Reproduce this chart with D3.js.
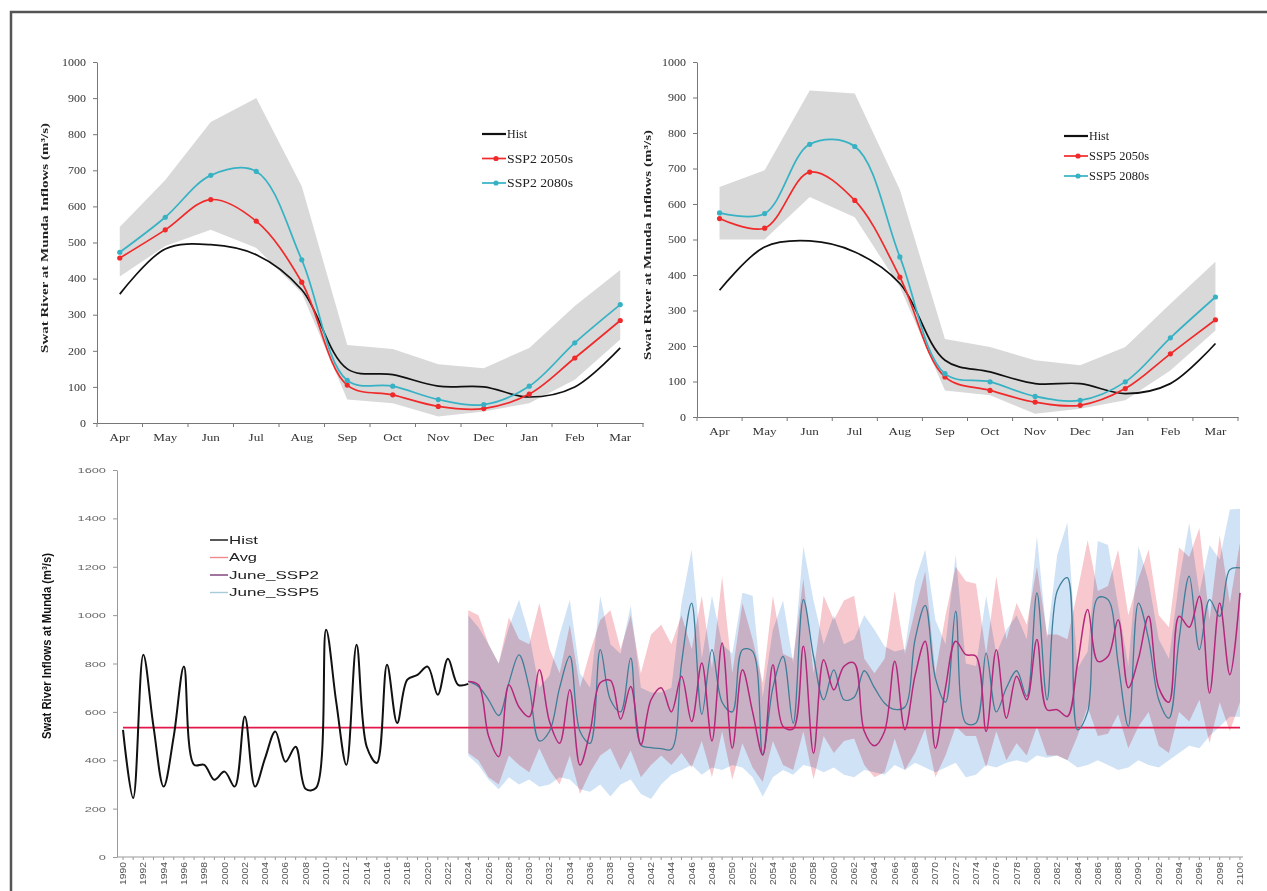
<!DOCTYPE html>
<html>
<head>
<meta charset="utf-8">
<script src="https://cdn.jsdelivr.net/npm/d3@7/dist/d3.min.js"></script>
<style>
  body { margin: 0; background: #fff; }
  svg { display: block; }
  .wide-r { transform-box: fill-box; transform-origin: 100% 50%; }
  .wide-c { transform-box: fill-box; transform-origin: 50% 50%; }
</style>
</head>
<body>
<svg id="fig" width="1267" height="891"></svg>
<script>
// ---- monthly climatology panels (Apr..Mar) ----
var months = ["Apr", "May", "Jun", "Jul", "Aug", "Sep", "Oct", "Nov", "Dec", "Jan", "Feb", "Mar"];

var histL    = [357, 482, 494, 466, 369, 150, 134, 102, 100, 72, 100, 208];
var ssp2_50s = [457, 535, 619, 559, 390, 105, 78, 46, 40, 80, 180, 284];
var ssp2_80s = [473, 570, 686, 697, 452, 118, 102, 65, 51, 102, 222, 328];
var ssp2Hi   = [543, 673, 834, 900, 656, 216, 205, 163, 152, 208, 324, 424];
var ssp2Lo   = [406, 490, 535, 485, 360, 65, 55, 18, 32, 55, 120, 231];

var histR    = [357, 479, 496, 465, 376, 160, 127, 94, 94, 66, 94, 207];
var ssp5_50s = [559, 532, 690, 610, 394, 113, 75, 42, 33, 80, 178, 274];
var ssp5_80s = [575, 573, 768, 762, 451, 122, 99, 58, 47, 99, 223, 338];
var ssp5Hi   = [648, 695, 920, 911, 640, 220, 197, 160, 146, 197, 319, 437];
var ssp5Lo   = [500, 500, 620, 563, 366, 75, 61, 9, 23, 47, 131, 244];

// ---- June inflow series ----
var histStart = 1990, projStart = 2024;
var histJune = [526, 244, 836, 540, 291, 500, 788, 381, 381, 319,
                353, 291, 581, 291, 410, 519, 394, 456, 281, 285,
                940, 640, 381, 878, 456, 389, 795, 554, 733, 753,
                787, 671, 820, 712, 716];
var avgJune = 535;

var juneSSP2 = [726, 712, 500, 415, 712, 620, 580, 774, 560, 470,
                691, 380, 520, 720, 730, 570, 705, 464, 650, 700,
                600, 747, 560, 802, 480, 885, 450, 774, 600, 422,
                795, 540, 530, 871, 429, 816, 691, 788, 802, 520,
                460, 520, 809, 526, 750, 892, 450, 700, 892, 837,
                830, 519, 857, 574, 747, 650, 899, 609, 609, 581,
                800, 1023, 809, 830, 981, 700, 820, 995, 700, 640,
                995, 950, 1078, 678, 1050, 754, 1092];
var juneSSP5 = [726, 705, 650, 585, 720, 836, 700, 480, 520, 700,
                830, 520, 470, 857, 650, 600, 822, 464, 452, 448,
                445, 800, 1050, 590, 857, 640, 600, 857, 850, 422,
                700, 829, 553, 1064, 830, 650, 774, 650, 660, 770,
                700, 636, 610, 620, 900, 1040, 740, 640, 1016, 554,
                554, 843, 600, 700, 770, 664, 1092, 650, 1100, 1155,
                526, 600, 1071, 1064, 800, 540, 1050, 900, 650, 574,
                900, 1161, 857, 1064, 995, 1188, 1195];
var ssp2Max = [1020, 1000, 880, 800, 990, 900, 880, 1050, 860, 760,
               960, 700, 850, 980, 1020, 860, 1000, 760, 920, 960,
               880, 1000, 860, 1080, 780, 1160, 760, 1050, 900, 720,
               1080, 840, 820, 1150, 760, 1080, 980, 1060, 1080, 820,
               760, 820, 1100, 840, 1020, 1180, 760, 1000, 1200, 1140,
               1130, 840, 1160, 900, 1050, 960, 1200, 920, 920, 900,
               1100, 1310, 1100, 1120, 1270, 1000, 1150, 1270, 1000, 950,
               1280, 1240, 1360, 980, 1330, 1050, 1300];
var ssp2Min = [430, 400, 330, 300, 420, 380, 350, 450, 360, 300,
               420, 260, 350, 420, 450, 360, 440, 330, 380, 420,
               380, 430, 370, 480, 330, 520, 320, 470, 370, 310,
               480, 380, 360, 520, 320, 500, 430, 480, 490, 380,
               330, 350, 490, 360, 430, 530, 330, 420, 540, 500,
               500, 370, 520, 400, 470, 420, 540, 420, 420, 400,
               500, 620, 500, 510, 590, 450, 540, 600, 460, 430,
               600, 560, 650, 470, 640, 520, 640];
var ssp5Max = [1000, 950, 880, 800, 950, 1064, 920, 700, 750, 920,
               1064, 760, 700, 1078, 880, 840, 1040, 700, 680, 680,
               700, 1050, 1271, 820, 1080, 880, 840, 1092, 1080, 660,
               940, 1060, 800, 1285, 1060, 880, 1000, 880, 900, 1000,
               940, 870, 850, 860, 1140, 1271, 980, 880, 1250, 800,
               790, 1080, 840, 940, 1000, 900, 1326, 900, 1250, 1382,
               780, 850, 1306, 1290, 1040, 790, 1285, 1140, 900, 820,
               1140, 1382, 1090, 1290, 1230, 1437, 1440];
var ssp5Min = [420, 380, 320, 280, 330, 300, 320, 290, 300, 330,
               320, 280, 270, 300, 250, 300, 320, 260, 240, 300,
               340, 360, 380, 340, 370, 360, 380, 370, 330, 250,
               330, 360, 340, 380, 370, 350, 370, 340, 330, 360,
               350, 340, 380, 360, 390, 370, 350, 370, 390, 330,
               340, 380, 370, 390, 400, 390, 420, 410, 420, 400,
               370, 380, 400, 380, 360, 370, 400, 380, 370, 400,
               430, 460, 450, 500, 540, 580, 580];

var serif = "'Liberation Serif', 'Times New Roman', serif";
var sans = "'Liberation Sans', Arial, sans-serif";
var narrow = "'Liberation Sans Narrow', 'Arial Narrow', 'Liberation Sans', sans-serif";

var svg = d3.select("#fig");

// figure frame (top and left edges visible)
svg.append("path")
    .attr("d", "M11,891V12H1267")
    .attr("fill", "none")
    .attr("stroke", "#555")
    .attr("stroke-width", 2.5);

function monthlyPanel(p) {
  var x = d3.scaleBand().domain(months).range([p.left, p.right]);
  var y = d3.scaleLinear().domain([0, 1000]).range([p.bottom, p.top]);
  var mx = function(d, i) { return x(months[i]) + x.bandwidth() / 2; };
  var g = svg.append("g");

  g.append("path")
      .attr("fill", "#d9d9d9")
      .attr("d", d3.area()
        .x(mx)
        .y0(function(d, i) { return y(p.lo[i]); })
        .y1(function(d) { return y(d); })(p.hi));

  var line = d3.line().x(mx).y(function(d) { return y(d); }).curve(d3.curveCatmullRom.alpha(0.5));
  var series = [
    {name: "Hist", v: p.hist, c: "#111", dot: false},
    {name: p.names[0], v: p.s50, c: "#f02a2a", dot: true},
    {name: p.names[1], v: p.s80, c: "#36b2c4", dot: true}
  ];
  series.forEach(function(s) {
    g.append("path").attr("fill", "none").attr("stroke", s.c).attr("stroke-width", 1.7).attr("d", line(s.v));
    if (s.dot) {
      g.selectAll(null).data(s.v).join("circle")
          .attr("cx", mx).attr("cy", function(d) { return y(d); })
          .attr("r", 2.6).attr("fill", s.c);
    }
  });

  // y axis
  var ya = g.append("g")
      .attr("transform", "translate(" + p.left + ",0)")
      .call(d3.axisLeft(y).tickValues(d3.range(0, 1001, 100)).tickFormat(d3.format("d"))
        .tickSize(4).tickPadding(7).tickSizeOuter(0));
  ya.attr("font-family", serif).attr("font-size", 10);
  ya.select(".domain").attr("stroke", "#777");
  ya.selectAll(".tick line").attr("stroke", "#777");
  ya.selectAll(".tick text").attr("fill", "#333").attr("class", "wide-r").style("transform", "scaleX(1.2)");

  // x axis with ticks on category boundaries
  var xa = g.append("g")
      .attr("transform", "translate(0," + p.bottom + ")")
      .call(d3.axisBottom(x).tickSize(0).tickPadding(11).tickSizeOuter(0));
  xa.attr("font-family", serif).attr("font-size", 10.5);
  xa.select(".domain").attr("stroke", "#777");
  xa.selectAll(".tick text").attr("fill", "#333").attr("class", "wide-c").style("transform", "scaleX(1.25)");
  xa.selectAll(".edge").data(months.map(function(m) { return x(m); }).concat([p.right]))
    .join("line").attr("class", "edge")
      .attr("x1", function(d) { return d; }).attr("x2", function(d) { return d; })
      .attr("y1", 0).attr("y2", 4).attr("stroke", "#777");

  // axis title
  g.append("text")
      .attr("transform", "translate(" + p.titleX + "," + p.titleY + ") rotate(-90)")
      .attr("text-anchor", "middle")
      .attr("font-family", serif).attr("font-weight", "bold").attr("font-size", 10.5)
      .attr("textLength", p.titleLen).attr("lengthAdjust", "spacingAndGlyphs")
      .attr("fill", "#222")
      .text("Swat River at Munda Inflows (m\u00b3/s)");

  // legend
  var lg = g.append("g").attr("transform", "translate(" + p.legX + "," + p.legY + ")");
  series.forEach(function(s, i) {
    var row = lg.append("g").attr("transform", "translate(0," + i * p.legStep + ")");
    row.append("line").attr("x1", 0).attr("x2", p.swatch).attr("stroke", s.c).attr("stroke-width", s.dot ? 1.7 : 2.2);
    if (s.dot) row.append("circle").attr("cx", p.swatch / 2 + 2).attr("r", 2.6).attr("fill", s.c);
    var t = row.append("text").attr("x", p.swatch + 1).attr("dy", "0.35em")
        .attr("font-family", serif).attr("font-size", 12).attr("fill", "#222").text(s.name);
    if (s.dot) t.attr("textLength", p.legLen).attr("lengthAdjust", "spacingAndGlyphs");
  });
}

monthlyPanel({
  left: 97, right: 643, top: 62, bottom: 423,
  hist: histL, s50: ssp2_50s, s80: ssp2_80s, hi: ssp2Hi, lo: ssp2Lo,
  names: ["SSP2 2050s", "SSP2 2080s"],
  titleX: 48, titleY: 238, titleLen: 230,
  legX: 482, legY: 134, legStep: 24.5, swatch: 24, legLen: 66
});

monthlyPanel({
  left: 697, right: 1238, top: 62, bottom: 417,
  hist: histR, s50: ssp5_50s, s80: ssp5_80s, hi: ssp5Hi, lo: ssp5Lo,
  names: ["SSP5 2050s", "SSP5 2080s"],
  titleX: 651, titleY: 245, titleLen: 230,
  legX: 1064, legY: 136, legStep: 20, swatch: 24, legLen: 60
});

// ---- bottom: June inflows 1990-2100 ----
var histYears = d3.range(histStart, histStart + histJune.length);
var projYears = d3.range(projStart, projStart + juneSSP2.length);

var bx = d3.scaleLinear().domain([1990, 2100]).range([123, 1240]);
var by = d3.scaleLinear().domain([0, 1600]).range([857, 470]);
var gb = svg.append("g");

function band(hi, lo) {
  return d3.area()
    .x(function(d, i) { return bx(projYears[i]); })
    .y0(function(d, i) { return by(lo[i]); })
    .y1(function(d) { return by(d); })(hi);
}
gb.append("path").attr("d", band(ssp5Max, ssp5Min)).attr("fill", "#d0e2f5").style("mix-blend-mode", "multiply");
gb.append("path").attr("d", band(ssp2Max, ssp2Min)).attr("fill", "#f7c8cd").style("mix-blend-mode", "multiply");

gb.append("path")
    .attr("d", d3.line().x(function(d) { return bx(d); }).y(by(avgJune))([1990, 2100]))
    .attr("stroke", "#e3174a").attr("stroke-width", 1.6);

var smooth = function(years) {
  return d3.line()
    .x(function(d, i) { return bx(years[i]); })
    .y(function(d) { return by(d); })
    .curve(d3.curveCatmullRom.alpha(0.5));
};
gb.append("path").attr("d", smooth(histYears)(histJune)).attr("fill", "none").attr("stroke", "#111").attr("stroke-width", 2);
gb.append("path").attr("d", smooth(projYears)(juneSSP5)).attr("fill", "none").attr("stroke", "#3f7e98").attr("stroke-width", 1.3);
gb.append("path").attr("d", smooth(projYears)(juneSSP2)).attr("fill", "none").attr("stroke", "#b4287c").attr("stroke-width", 1.5);

// y axis
var bya = gb.append("g")
    .attr("transform", "translate(117,0)")
    .call(d3.axisLeft(by).tickValues(d3.range(0, 1601, 200)).tickFormat(d3.format("d"))
      .tickSize(4).tickPadding(7).tickSizeOuter(0));
bya.attr("font-family", sans).attr("font-size", 8);
bya.select(".domain").attr("stroke", "#999");
bya.selectAll(".tick line").attr("stroke", "#999");
bya.selectAll(".tick text").attr("fill", "#666").attr("class", "wide-r").style("transform", "scaleX(1.6)");

// x axis: a tick each year, a label every two years
var allYears = d3.range(1990, 2101);
var bxa = gb.append("g").attr("transform", "translate(0,857)");
bxa.append("line").attr("x1", 117).attr("x2", 1243).attr("stroke", "#999");
bxa.selectAll("line.t").data(allYears).join("line").attr("class", "t")
    .attr("x1", function(d) { return bx(d); }).attr("x2", function(d) { return bx(d); })
    .attr("y1", 0).attr("y2", 3).attr("stroke", "#999");
bxa.selectAll("text").data(allYears.filter(function(d) { return d % 2 === 0; })).join("text")
    .attr("transform", function(d) { return "translate(" + bx(d) + ",5) rotate(-90)"; })
    .attr("text-anchor", "end").attr("dy", "0.35em")
    .attr("font-family", sans).attr("font-size", 8.5).attr("fill", "#555")
    .attr("textLength", 23).attr("lengthAdjust", "spacingAndGlyphs")
    .text(function(d) { return d; });

gb.append("text")
    .attr("transform", "translate(51,646) rotate(-90)")
    .attr("text-anchor", "middle")
    .attr("font-family", narrow).attr("font-weight", "bold").attr("font-size", 12)
    .attr("textLength", 186).attr("lengthAdjust", "spacingAndGlyphs")
    .attr("fill", "#111")
    .text("Swat River Inflows at Munda (m\u00b3/s)");

// legend
var bLegend = [
  {name: "Hist", c: "#111", len: 29},
  {name: "Avg", c: "#f08a8a", len: 28},
  {name: "June_SSP2", c: "#7a3a78", len: 90},
  {name: "June_SSP5", c: "#a9cbd9", len: 90}
];
var bl = gb.append("g").attr("transform", "translate(210,540)");
bLegend.forEach(function(s, i) {
  var row = bl.append("g").attr("transform", "translate(0," + i * 17.5 + ")");
  row.append("line").attr("x1", 0).attr("x2", 18).attr("stroke", s.c).attr("stroke-width", 1.4);
  row.append("text").attr("x", 19).attr("dy", "0.35em")
      .attr("font-family", sans).attr("font-size", 11).attr("fill", "#222")
      .attr("textLength", s.len).attr("lengthAdjust", "spacingAndGlyphs")
      .text(s.name);
});
</script>
</body>
</html>
